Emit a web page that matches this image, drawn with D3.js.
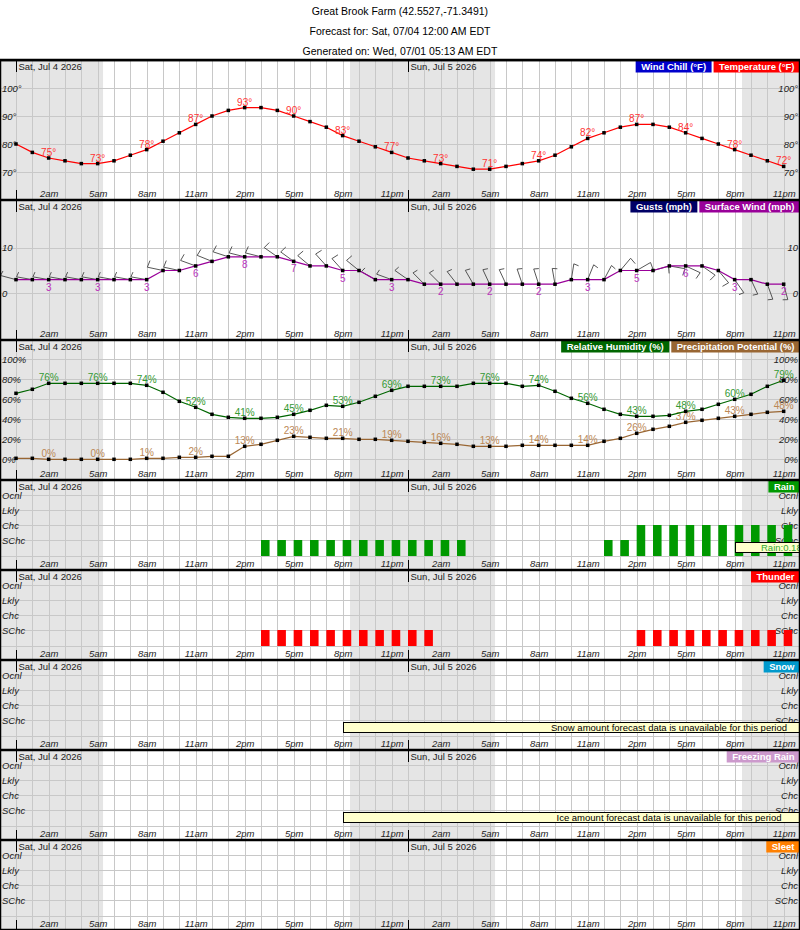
<!DOCTYPE html>
<html>
<head>
<meta charset="utf-8">
<script src="https://cdn.jsdelivr.net/npm/d3@7/dist/d3.min.js"></script>
<style>
body { margin: 0; background: #fff; }
text { font-family: "Liberation Sans", Arial, sans-serif; }
</style>
</head>
<body>
<div id="chart"></div>
<script>
var titleLines = ["Great Brook Farm (42.5527,-71.3491)", "Forecast for: Sat, 07/04 12:00 AM EDT", "Generated on: Wed, 07/01 05:13 AM EDT"];
var dayLabels = ["Sat, Jul 4 2026", "Sun, Jul 5 2026"];
var dayStarts = [0, 24];
var hourTicks = [2, 5, 8, 11, 14, 17, 20, 23, 26, 29, 32, 35, 38, 41, 44, 47];
var hourTickLabels = ["2am", "5am", "8am", "11am", "2pm", "5pm", "8pm", "11pm", "2am", "5am", "8am", "11am", "2pm", "5pm", "8pm", "11pm"];
var nightSpans = [[-1, 5.33], [20.45, 29.33], [44.45, 49]];
var categories = ["SChc", "Chc", "Lkly", "Ocnl"];

// hourly values, Sat 12am .. Sun 11pm
var temperature = [80, 77, 75, 74, 73, 73, 74, 76, 78, 81, 84, 87, 90, 92, 93, 93, 92, 90, 88, 86, 83, 81, 79, 77,
  75, 74, 73, 72, 71, 71, 72, 73, 74, 76, 79, 82, 84, 86, 87, 87, 86, 84, 82, 80, 78, 76, 74, 72];
var windSpeed = [3, 3, 3, 3, 3, 3, 3, 3, 3, 5, 5, 6, 7, 8, 8, 8, 8, 7, 6, 6, 5, 5, 3, 3,
  3, 2, 2, 2, 2, 2, 2, 2, 2, 2, 3, 3, 3, 5, 5, 5, 6, 6, 6, 5, 3, 3, 2, 2];
var windDir = [285, 280, 280, 280, 280, 280, 280, 280, 280, 282, 282, 290, 292, 288, 284, 284, 305, 306, 310, 318, 318, 309, 300, 290,
  305, 315, 315, 322, 330, 335, 335, 341, 342, 350, 9, 22, 28, 40, 60, 75, 100, 115, 125, 140, 145, 155, 160, 165];
var humidity = [66, 70, 76, 76, 76, 76, 76, 76, 74, 67, 58, 52, 45, 42, 41, 41, 42, 45, 49, 54, 53, 57, 63, 69,
  73, 73, 73, 73, 76, 76, 76, 73, 74, 68, 61, 56, 50, 45, 43, 43, 44, 48, 50, 55, 60, 65, 73, 79];
var precipPotential = [1, 1, 0, 0, 0, 0, 0, 0, 1, 1, 2, 2, 3, 3, 13, 15, 19, 23, 22, 21, 21, 20, 20, 19,
  18, 17, 16, 15, 13, 13, 13, 14, 14, 14, 14, 14, 18, 21, 26, 30, 33, 37, 39, 41, 43, 45, 47, 48];
// 0 none, 1 SChc, 2 Chc, 3 Lkly, 4 Ocnl
var rainLevel = [0, 0, 0, 0, 0, 0, 0, 0, 0, 0, 0, 0, 0, 0, 0, 1, 1, 1, 1, 1, 1, 1, 1, 1,
  1, 1, 1, 1, 0, 0, 0, 0, 0, 0, 0, 0, 1, 1, 2, 2, 2, 2, 2, 2, 2, 2, 2, 2];
var thunderLevel = [0, 0, 0, 0, 0, 0, 0, 0, 0, 0, 0, 0, 0, 0, 0, 1, 1, 1, 1, 1, 1, 1, 1, 1,
  1, 1, 0, 0, 0, 0, 0, 0, 0, 0, 0, 0, 0, 0, 1, 1, 1, 1, 1, 1, 1, 1, 1, 1];

var x = d3.scaleLinear().domain([0, 48]).range([16, 800]);
function gx(h) { return Math.round(x(h)) + 0.5; }

var svg = d3.select("#chart").append("svg")
	.attr("width", 800)
	.attr("height", 930);

svg.append("rect").attr("width", 800).attr("height", 930).attr("fill", "#fff");

svg.selectAll("text.title").data(titleLines).enter().append("text")
	.attr("class", "title")
	.attr("x", 400)
	.attr("y", function(d, i) { return 15 + i * 20; })
	.attr("text-anchor", "middle")
	.style("font-size", "10.5px")
	.text(function(d) { return d; });

var tempY = d3.scaleLinear().domain([60, 110]).range([140, 0]);
var windY = d3.scaleLinear().domain([-10, 20]).range([139, 2]);
var pctY = d3.scaleLinear().domain([0, 100]).range([119.3, 19.3]);
var catY = d3.scaleLinear().domain([0, 1, 4]).range([76, 60, 15]);

var panels = [
	{id: "temp", top: 60, h: 140, y: tempY, ticks: [70, 80, 90, 100], fmt: function(d) { return d + "°"; },
		legend: [["Wind Chill (°F)", "#0000cc"], ["Temperature (°F)", "#ff0000"]]},
	{id: "wind", top: 200, h: 140, y: windY, ticks: [0, 10], fmt: function(d) { return d; },
		legend: [["Gusts (mph)", "#000066"], ["Surface Wind (mph)", "#990099"]]},
	{id: "pct", top: 340, h: 140, y: pctY, ticks: [0, 20, 40, 60, 80, 100], fmt: function(d) { return d + "%"; },
		legend: [["Relative Humidity (%)", "#006600"], ["Precipitation Potential (%)", "#996633"]]},
	{id: "rain", top: 480, h: 90, y: catY, cat: true, legend: [["Rain", "#009900"]]},
	{id: "thunder", top: 570, h: 90, y: catY, cat: true, legend: [["Thunder", "#ff0000"]]},
	{id: "snow", top: 660, h: 90, y: catY, cat: true, legend: [["Snow", "#0099cc"]]},
	{id: "frz", top: 750, h: 90, y: catY, cat: true, legend: [["Freezing Rain", "#cc99cc"]]},
	{id: "sleet", top: 840, h: 90, y: catY, cat: true, legend: [["Sleet", "#ff8000"]]}
];

var g = {};

panels.forEach(function(p) {
	var root = svg.append("g").attr("transform", "translate(0," + p.top + ")");
	root.append("clipPath").attr("id", "clip-" + p.id)
		.append("rect").attr("width", 800).attr("height", p.h);
	var pg = root.append("g").attr("clip-path", "url(#clip-" + p.id + ")");
	g[p.id] = pg;

	pg.selectAll("rect.night").data(nightSpans).enter().append("rect")
		.attr("class", "night")
		.attr("x", function(d) { return x(d[0]); })
		.attr("width", function(d) { return x(d[1]) - x(d[0]); })
		.attr("height", p.h)
		.attr("fill", "#e5e5e5");

	// vertical hour grid
	pg.selectAll("line.vg").data(d3.range(48)).enter().append("line")
		.attr("class", "vg")
		.attr("x1", gx).attr("x2", gx)
		.attr("y1", 0).attr("y2", p.h)
		.attr("stroke", "#c8c8c8");

	var hticks = p.cat ? [0, 1, 2, 3, 4] : p.ticks;
	pg.selectAll("line.hg").data(hticks).enter().append("line")
		.attr("class", "hg")
		.attr("x1", 0).attr("x2", 800)
		.attr("y1", function(d) { return Math.round(p.y(d)) + 0.5; })
		.attr("y2", function(d) { return Math.round(p.y(d)) + 0.5; })
		.attr("stroke", "#c8c8c8");

	// day markers
	pg.selectAll("text.day").data(dayLabels).enter().append("text")
		.attr("class", "day")
		.attr("x", function(d, i) { return x(dayStarts[i]) + 2.5; })
		.attr("y", 10)
		.style("font-size", "9.5px")
		.attr("fill", "#222")
		.text(function(d) { return d; });
	dayStarts.forEach(function(h) {
		pg.append("line").attr("x1", gx(h)).attr("x2", gx(h)).attr("y1", 0).attr("y2", 12).attr("stroke", "#000");
		pg.append("line").attr("x1", gx(h)).attr("x2", gx(h)).attr("y1", p.h - 10).attr("y2", p.h).attr("stroke", "#000");
	});

	var hourAxis = d3.axisBottom(x)
		.tickValues(hourTicks)
		.tickFormat(function(d, i) { return hourTickLabels[i]; })
		.tickSize(0).tickPadding(0);
	pg.append("g")
		.attr("transform", "translate(0," + (p.h - 3.5) + ")")
		.call(hourAxis)
		.call(function(a) {
			a.select(".domain").remove();
			a.attr("font-family", null).attr("font-size", null);
			a.selectAll("text").attr("dy", 0).attr("fill", "#222")
				.style("font-size", "9.5px").style("font-style", "italic");
		});

	var yTicks = p.cat ? [1, 2, 3, 4] : p.ticks;
	var yFmt = p.cat ? function(d) { return categories[d - 1]; } : p.fmt;
	[[d3.axisRight(p.y).tickPadding(2), 0], [d3.axisLeft(p.y).tickPadding(0), 798]].forEach(function(ax) {
		pg.append("g")
			.attr("transform", "translate(" + ax[1] + ",0)")
			.call(ax[0].tickValues(yTicks).tickFormat(yFmt).tickSize(0))
			.call(function(a) {
				a.select(".domain").remove();
				a.attr("font-family", null).attr("font-size", null);
				a.selectAll("text").attr("fill", "#222")
					.style("font-size", "9.5px").style("font-style", "italic");
			});
	});
});

function drawSeries(pg, values, y, lineColor, labelColor, fmt, below) {
	var line = d3.line()
		.x(function(d, i) { return x(i); })
		.y(function(d) { return y(d); });
	pg.append("path").datum(values)
		.attr("d", line)
		.attr("fill", "none")
		.attr("stroke", lineColor)
		.attr("stroke-width", 1.2);
	pg.selectAll(null).data(values).enter().append("rect")
		.attr("x", function(d, i) { return x(i) - 1.75; })
		.attr("y", function(d) { return y(d) - 1.75; })
		.attr("width", 3.5).attr("height", 3.5)
		.attr("fill", "#000");
	pg.selectAll(null).data(hourTicks).enter().append("text")
		.attr("x", function(h) { return x(h); })
		.attr("y", function(h) { return y(values[h]) + (below ? 11 : -2); })
		.attr("text-anchor", "middle")
		.attr("fill", labelColor)
		.style("font-size", "10px")
		.text(function(h) { return fmt(values[h]); });
}

drawSeries(g.temp, temperature, tempY, "#ff0000", "#ff3333", function(d) { return d + "°"; });

// wind barbs
function barbPath(d, i) {
	var px = x(i), py = windY(d);
	var a = windDir[i] * Math.PI / 180;
	var dx = Math.sin(a), dy = -Math.cos(a);
	var len = 16, t = d >= 5 ? 7 : 5;
	var ex = px + dx * len, ey = py + dy * len;
	var tx = ex + Math.cos(a) * t - dx * 1.2, ty = ey + Math.sin(a) * t - dy * 1.2;
	return "M" + px + "," + py + "L" + ex + "," + ey + "L" + tx + "," + ty;
}
g.wind.selectAll("path.barb").data(windSpeed).enter().append("path")
	.attr("class", "barb")
	.attr("d", barbPath)
	.attr("fill", "none")
	.attr("stroke", "#444")
	.attr("stroke-width", 0.9);
drawSeries(g.wind, windSpeed, windY, "#990099", "#bb33bb", function(d) { return d; }, true);

drawSeries(g.pct, precipPotential, pctY, "#996633", "#bb8855", function(d) { return d + "%"; });
drawSeries(g.pct, humidity, pctY, "#006600", "#339933", function(d) { return d + "%"; });

function drawBars(pg, levels, color) {
	var bars = levels.map(function(d, i) { return {h: i, level: d}; })
		.filter(function(d) { return d.level > 0; });
	pg.selectAll("rect.bar").data(bars).enter().append("rect")
		.attr("class", "bar")
		.attr("x", function(d) { return x(d.h); })
		.attr("width", function(d) { return x(d.h + 0.5) - x(d.h) + 0.4; })
		.attr("y", function(d) { return catY(d.level); })
		.attr("height", function(d) { return catY(0) - catY(d.level); })
		.attr("fill", color);
}
drawBars(g.rain, rainLevel, "#009900");
drawBars(g.thunder, thunderLevel, "#ff0000");

function note(pg, x0, x1, tx, anchor, color, txt) {
	pg.append("rect")
		.attr("x", x0 + 0.5).attr("y", 62.5)
		.attr("width", x1 - x0).attr("height", 10)
		.attr("fill", "#ffffcc").attr("stroke", "#000");
	pg.append("text")
		.attr("x", tx).attr("y", 71)
		.attr("text-anchor", anchor)
		.attr("fill", color)
		.style("font-size", "9.5px")
		.text(txt);
}
note(g.rain, 735, 820, 761, "start", "#33aa33", "Rain:0.18");
note(g.snow, 343, 1000, 669, "middle", "#000", "Snow amount forecast data is unavailable for this period");
note(g.frz, 343, 1000, 669, "middle", "#000", "Ice amount forecast data is unavailable for this period");

// legends, packed from the right edge
panels.forEach(function(p) {
	var right = 800;
	p.legend.slice().reverse().forEach(function(item) {
		var lg = g[p.id].append("g");
		var rect = lg.append("rect").attr("y", 1).attr("height", 11.5).attr("fill", item[1]);
		var t = lg.append("text")
			.attr("y", 9.5)
			.attr("text-anchor", "middle")
			.attr("fill", "#fff")
			.style("font-size", "9.5px")
			.style("font-weight", "bold")
			.text(item[0]);
		var w = t.node().getComputedTextLength() + 11;
		rect.attr("x", right - w).attr("width", w);
		t.attr("x", right - w / 2);
		right -= w + 2;
	});
});

// panel borders
svg.selectAll("line.sep").data(panels).enter().append("line")
	.attr("class", "sep")
	.attr("x1", 0).attr("x2", 800)
	.attr("y1", function(p) { return p.top; })
	.attr("y2", function(p) { return p.top; })
	.attr("stroke", "#000")
	.attr("stroke-width", 2.5);
svg.append("rect")
	.attr("x", 0.5).attr("y", 60.5)
	.attr("width", 799).attr("height", 869)
	.attr("fill", "none")
	.attr("stroke", "#000")
	.attr("stroke-width", 1.5);
</script>
</body>
</html>
